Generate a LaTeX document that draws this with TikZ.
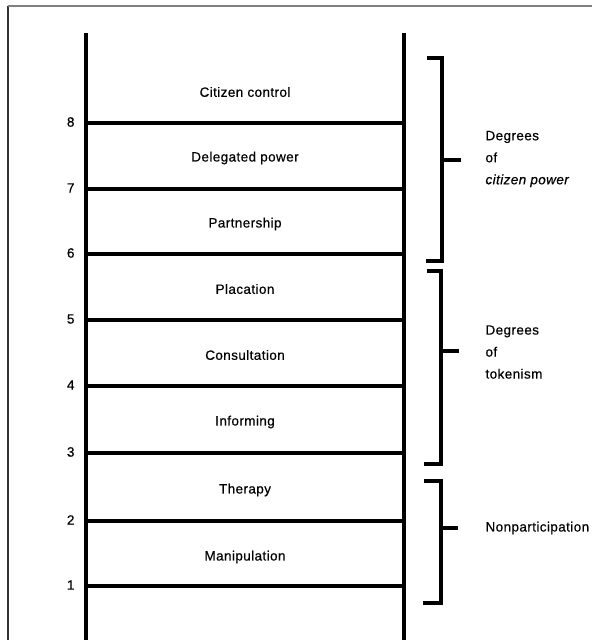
\documentclass[tikz,border=0pt]{standalone}
\usepackage{fontspec}
\setmainfont[LetterSpace=3,FakeBold=0.5]{Liberation Sans}
\begin{document}
\begin{tikzpicture}[x=1pt,y=-1pt,
  rail/.style={line width=3.4pt},
  bracket/.style={line width=3.2pt},
  rung/.style={font=\fontsize{13.5}{16}\selectfont},
  num/.style={font=\fontsize{13.5}{16}\selectfont,anchor=east},
  group/.style={font=\fontsize{13.5}{22}\selectfont,align=left,anchor=west}]
\useasboundingbox (0,0) rectangle (592,640);
\draw[black!80, line width=1.5pt] (8,640) -- (8,5.5);
\draw[black!50, line width=2pt] (7.5,5.5) -- (592,5.5);

% rails and rungs
\draw[rail] (86,33) -- (86,640);
\draw[rail] (404,33) -- (404,640);
\draw[rail] (86,123) -- (404,123);
\draw[rail] (86,189) -- (404,189);
\draw[rail] (86,254) -- (404,254);
\draw[rail] (86,320) -- (404,320);
\draw[rail] (86,386) -- (404,386);
\draw[rail] (86,453) -- (404,453);
\draw[rail] (86,521) -- (404,521);
\draw[rail] (86,586) -- (404,586);

\node[num] (n8) at (78,122) {8};
\node[num] (n7) at (78,188) {7};
\node[num] (n6) at (78,253) {6};
\node[num] (n5) at (78,319) {5};
\node[num] (n4) at (78,385) {4};
\node[num] (n3) at (78,452) {3};
\node[num] (n2) at (78,520) {2};
\node[num] (n1) at (78,585) {1};

\node[rung] (control) at (245,92) {Citizen control};
\node[rung] (delegated) at (245,158) {Delegated power};
\node[rung] (partnership) at (245,224) {Partnership};
\node[rung] (placation) at (245,289) {Placation};
\node[rung] (consultation) at (245,355) {Consultation};
\node[rung] (informing) at (245,422) {Informing};
\node[rung] (therapy) at (245,490) {Therapy};
\node[rung] (manipulation) at (245,557) {Manipulation};

% brackets
\draw[bracket] (427,58) -- (442,58) -- (442,261) -- (426,261);
\draw[bracket] (442,160) -- (461,160);
\draw[bracket] (427,271) -- (441,271) -- (441,464) -- (424,464);
\draw[bracket] (441,351) -- (459,351);
\draw[bracket] (424,481) -- (441,481) -- (441,603) -- (423,603);
\draw[bracket] (441,528) -- (458,528);

\node[group] (power) at (482,159) {Degrees\\of\\\itshape citizen power};
\node[group] (tokenism) at (482,352) {Degrees\\of\\tokenism};
\node[group] (nonpart) at (482,528) {Nonparticipation};
\end{tikzpicture}
\end{document}
